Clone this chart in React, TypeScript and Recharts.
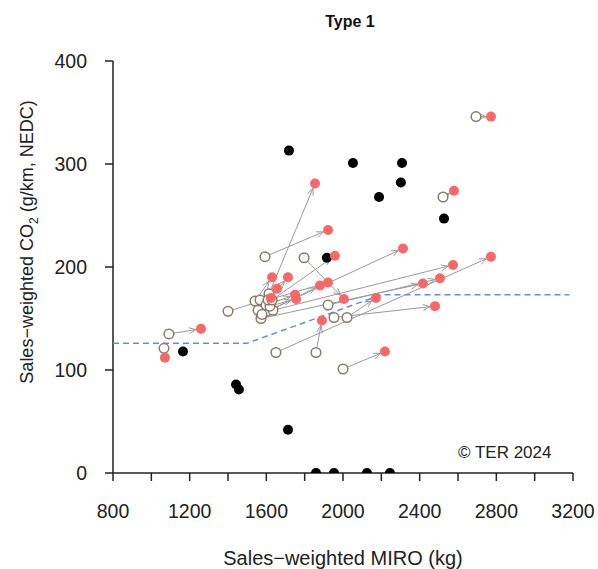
import React from 'react';
import { ScatterChart, Scatter, XAxis, YAxis, ReferenceLine, Label } from 'recharts';

// old models (open circles)
const oldMiro = [1066, 1092, 1400, 1593, 1797, 1614, 1541, 1557, 1603, 1635, 1572, 1922, 1953, 2021, 1650, 1859, 2000, 2522, 2694, 1567, 1598, 1619, 1577, 1609, 1630];
const oldCo2 = [121, 135, 157, 210, 209, 174, 167, 158, 157, 158, 150, 163, 151, 151, 117, 117, 101, 268, 346, 168, 163, 162, 154, 168, 168];
// new models (red), same order as the old ones
const newMiro = [1071, 1259, 1624, 1922, 2005, 1854, 1630, 1713, 2313, 2574, 2417, 2506, 2480, 2172, 2772, 1890, 2219, 2579, 2772, 1656, 1750, 1755, 1880, 1922, 1958];
const newCo2 = [112, 140, 170, 236, 169, 281, 190, 190, 218, 202, 184, 189, 162, 170, 210, 148, 118, 274, 346, 179, 173, 169, 182, 185, 211];
// unchanged models (black)
const soloMiro = [1165, 1442, 1457, 1713, 1718, 2052, 2308, 2302, 2188, 2527, 1916, 1859, 1953, 2125, 2245];
const soloCo2 = [118, 86, 81, 42, 313, 301, 301, 282, 268, 247, 209, 0, 0, 0, 0];
// target line
const limitMiro = [800, 1500, 2200, 3180];
const limitCo2 = [126, 126, 173, 173];

const xTicks = [800, 1000, 1200, 1400, 1600, 1800, 2000, 2200, 2400, 2600, 2800, 3000, 3200];
const yTicks = [0, 100, 200, 300, 400];

const FONT = '"Liberation Sans", Arial, sans-serif';
const AXIS = '#222';

const oldPts = oldMiro.map((x, i) => ({ x, y: oldCo2[i] }));
const newPts = newMiro.map((x, i) => ({ x, y: newCo2[i] }));
const soloPts = soloMiro.map((x, i) => ({ x, y: soloCo2[i] }));
const limitPts = limitMiro.map((x, i) => ({ x, y: limitCo2[i] }));

const Arrow = (props: any) => {
  const { x1, y1, x2, y2 } = props;
  if ([x1, y1, x2, y2].some(v => v == null || isNaN(v))) return null;
  const dx = x2 - x1;
  const dy = y2 - y1;
  const len = Math.sqrt(dx * dx + dy * dy) || 1;
  const ux = dx / len;
  const uy = dy / len;
  const r = 5;
  if (len <= 2 * r) return null;
  const sx = x1 + ux * r;
  const sy = y1 + uy * r;
  const tx = x2 - ux * r;
  const ty = y2 - uy * r;
  const head = 7;
  const w = 3;
  const bx = tx - ux * head;
  const by = ty - uy * head;
  const px = -uy * w;
  const py = ux * w;
  return (
    <g>
      <line x1={sx} y1={sy} x2={tx} y2={ty} stroke="#9a9a9a" strokeWidth={1} />
      <path
        d={`M${bx + px},${by + py} L${tx},${ty} L${bx - px},${by - py}`}
        fill="none"
        stroke="#9a9a9a"
        strokeWidth={1}
      />
    </g>
  );
};

const XTick = ({ x, y, payload }: any) =>
  payload.value % 400 === 0 ? (
    <text x={x} y={y + 35} textAnchor="middle" fontSize={19.5} fontFamily={FONT} fill={AXIS}>
      {payload.value}
    </text>
  ) : null;

const YTick = ({ x, y, payload }: any) => (
  <text x={x - 16} y={y} dy="0.36em" textAnchor="end" fontSize={19.5} fontFamily={FONT} fill={AXIS}>
    {payload.value}
  </text>
);

const XTitle = ({ viewBox }: any) => (
  <text x={viewBox.x + viewBox.width / 2} y={viewBox.y + 92} textAnchor="middle" fontSize={20} fontFamily={FONT} fill={AXIS}>
    Sales−weighted MIRO (kg)
  </text>
);

const YTitle = ({ viewBox }: any) => {
  const cx = 19;
  const cy = viewBox.y + viewBox.height / 2 - 25;
  return (
    <text transform={`translate(${cx},${cy}) rotate(-90)`} textAnchor="middle" dy="0.35em" fontSize={18} fontFamily={FONT} fill={AXIS}>
      <tspan>Sales−weighted  CO</tspan>
      <tspan fontSize={12} dy={5}>2</tspan>
      <tspan dy={-5}>  (g/km, NEDC)</tspan>
    </text>
  );
};

export default function App() {
  return (
    <div style={{ padding: 8, width: 582, height: 561 }}>
      <style>{'body { margin: 0; } .recharts-surface, .recharts-wrapper { overflow: visible !important; }'}</style>
      <div style={{ position: 'relative', width: 582, height: 561, fontFamily: FONT }}>
        <div
          style={{
            position: 'absolute',
            left: 0,
            width: 684,
            top: 5,
            textAlign: 'center',
            fontSize: 16,
            fontWeight: 'bold',
            color: '#111',
            lineHeight: '18px',
          }}
        >
          Type 1
        </div>
        <ScatterChart width={582} height={561} margin={{ top: 53, right: 17, left: 0, bottom: 0 }}>
          <XAxis
            type="number"
            dataKey="x"
            domain={[800, 3200]}
            ticks={xTicks}
            interval={0}
            tick={<XTick />}
            tickSize={8}
            height={96}
            axisLine={{ stroke: AXIS, strokeWidth: 1.5 }}
            tickLine={{ stroke: AXIS, strokeWidth: 1.5 }}
          >
            <Label content={<XTitle />} />
          </XAxis>
          <YAxis
            type="number"
            dataKey="y"
            domain={[0, 400]}
            ticks={yTicks}
            allowDataOverflow
            tick={<YTick />}
            tickSize={8}
            width={105}
            axisLine={{ stroke: AXIS, strokeWidth: 1.5 }}
            tickLine={{ stroke: AXIS, strokeWidth: 1.5 }}
          >
            <Label content={<YTitle />} />
          </YAxis>
          {oldPts.map((p, i) => (
            <ReferenceLine
              key={`a-${i}`}
              segment={[{ x: p.x, y: p.y }, { x: newPts[i].x, y: newPts[i].y }]}
              shape={<Arrow />}
              ifOverflow="visible"
            />
          ))}
          <Scatter
            data={limitPts}
            line={{ stroke: '#5b8ff0', strokeWidth: 1.5, strokeDasharray: '6 4' }}
            shape={() => <g />}
            isAnimationActive={false}
          />
          <Scatter
            data={soloPts}
            shape={(p: any) => <circle cx={p.cx} cy={p.cy} r={5} fill="#000" />}
            isAnimationActive={false}
          />
          <Scatter
            data={oldPts}
            shape={(p: any) => <circle cx={p.cx} cy={p.cy} r={4.8} fill="#fff" stroke="#8a7a66" strokeWidth={1.5} />}
            isAnimationActive={false}
          />
          <Scatter
            data={newPts}
            shape={(p: any) => <circle cx={p.cx} cy={p.cy} r={5} fill="#f86868" />}
            isAnimationActive={false}
          />
        </ScatterChart>
        <div
          style={{
            position: 'absolute',
            left: 450,
            top: 436,
            fontSize: 17,
            lineHeight: '17px',
            color: '#222',
            whiteSpace: 'nowrap',
          }}
        >
          © TER 2024
        </div>
      </div>
    </div>
  );
}
